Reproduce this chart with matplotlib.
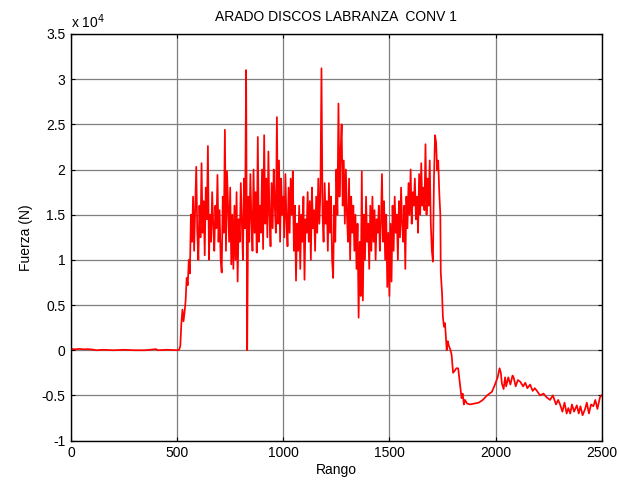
import numpy as np
import matplotlib
matplotlib.use("Agg")
import matplotlib.pyplot as plt
from matplotlib.ticker import FuncFormatter, MultipleLocator

plt.rcParams['font.family'] = ['Liberation Sans', 'DejaVu Sans']

# ---- data (force in units of 1e4 N, sample index) ----
x_start = [0, 20, 40, 60, 80, 100, 120, 150, 200, 250, 300, 350, 400, 410, 450, 500,
           505, 510, 515, 520, 525, 530, 535, 540, 545, 550, 555, 560, 565]
y_start = [0.015, 0.01, 0.015, 0.01, 0.012, 0.008, 0.0, 0.005, 0.0, 0.005, 0.0, 0.0, 0.012, 0.0, 0.005, 0.0,
           0.0, 0.01, 0.05, 0.3, 0.45, 0.32, 0.42, 0.55, 0.8, 0.72, 1.0, 0.85, 1.5]

x_noisy_first = 570
x_noisy_step = 5
y_noisy = [
    1.2, 1.7, 1.1, 1.55, 2.03, 1.3, 1.0, 1.6, 1.25, 2.07,
    1.3, 1.65, 1.05, 1.8, 1.45, 2.26, 1.0, 1.5, 1.2, 1.75,
    1.4, 1.1, 1.6, 1.35, 1.94, 1.2, 1.55, 1.0, 0.86, 1.7,
    1.3, 2.44, 1.1, 1.98, 1.6, 1.2, 1.8, 0.95, 1.5, 0.9,
    1.6, 1.0, 1.75, 0.76, 1.45, 1.2, 1.85, 1.4, 1.0, 1.9,
    1.35, 3.10, 0.0, 1.7, 1.2, 1.95, 1.45, 1.1, 2.0, 1.3,
    1.75, 1.08, 2.36, 1.2, 1.6, 1.3, 2.0, 1.12, 2.38, 1.4,
    1.9, 1.25, 2.2, 1.5, 1.15, 1.85, 1.35, 2.0, 1.6, 1.3,
    2.58, 1.4, 2.1, 1.2, 1.9, 1.5, 1.7, 1.25, 1.95, 1.45,
    1.15, 1.8, 1.3, 1.9, 1.5, 1.98, 1.1, 1.6, 0.77, 1.4,
    1.1, 1.6, 0.9, 1.5, 1.2, 1.7, 0.78, 1.45, 1.3, 1.75,
    1.2, 1.65, 1.0, 1.8, 1.35, 1.55, 1.1, 1.7, 1.3, 1.9,
    1.4, 1.75, 3.12, 1.5, 1.2, 1.85, 1.4, 1.65, 1.1, 1.85,
    1.3, 1.7, 1.0, 0.8, 1.6, 1.2, 2.0, 1.5, 2.73, 1.7,
    2.2, 2.5, 1.6, 2.1, 1.4, 2.0, 1.5, 1.2, 1.9, 1.0,
    1.7, 1.3, 1.6, 1.1, 1.5, 0.9, 1.4, 0.36, 1.2, 0.6,
    1.98, 0.55, 1.5, 1.0, 1.7, 1.2, 1.4, 0.9, 1.6, 1.1,
    1.7, 1.2, 1.55, 1.0, 1.45, 1.3, 1.6, 1.1, 1.4, 1.95,
    1.2, 1.65, 1.0, 1.5, 0.7, 1.3, 0.6, 1.4, 0.76, 1.6,
    1.1, 1.7, 1.3, 1.5, 1.0, 1.65, 1.25, 1.8, 1.4, 1.2,
    1.6, 0.9, 1.7, 1.35, 1.85, 1.5, 2.0, 1.4, 1.75, 1.6,
    1.9, 1.45, 1.7, 1.3, 1.95, 1.5, 2.07, 1.6, 1.8, 1.55,
    2.28, 1.5, 1.9, 1.6, 2.1, 1.4, 1.1, 0.98, 1.9, 2.38,
    2.3, 1.99, 2.1, 1.74,
]

x_end = [1740, 1742, 1748, 1752, 1757, 1762, 1766, 1770, 1775, 1780, 1788, 1793, 1800, 1810,
         1815, 1824, 1832, 1840, 1845, 1851, 1856, 1866, 1880, 1900, 1921, 1940, 1960, 1983,
         1999, 2010, 2019, 2025, 2030, 2038, 2045, 2050, 2060, 2070, 2080, 2085, 2095, 2105,
         2117, 2130, 2140, 2150, 2163, 2175, 2185, 2195, 2210, 2226, 2240, 2257, 2270, 2285,
         2295, 2304, 2315, 2325, 2335, 2343, 2352, 2360, 2370, 2383, 2392, 2400, 2410, 2422,
         2430, 2440, 2450, 2461, 2470, 2480, 2492, 2500]
y_end = [1.5, 0.86, 0.63, 0.37, 0.26, 0.3, 0.15, 0.0, 0.1, 0.05, 0.0, -0.05, -0.25, -0.22,
         -0.2, -0.2, -0.37, -0.53, -0.48, -0.6, -0.55, -0.59, -0.6, -0.59, -0.58, -0.55, -0.5, -0.46,
         -0.37, -0.3, -0.2, -0.25, -0.37, -0.43, -0.3, -0.4, -0.3, -0.38, -0.28, -0.3, -0.4, -0.33,
         -0.35, -0.4, -0.36, -0.42, -0.38, -0.45, -0.42, -0.45, -0.5, -0.48, -0.52, -0.55, -0.5, -0.6,
         -0.55, -0.6, -0.68, -0.58, -0.7, -0.64, -0.7, -0.6, -0.68, -0.61, -0.7, -0.62, -0.72, -0.65,
         -0.58, -0.7, -0.6, -0.62, -0.55, -0.65, -0.52, -0.5]

x_noisy = [x_noisy_first + i * x_noisy_step for i in range(len(y_noisy))]
rango = np.array(x_start + x_noisy + x_end, dtype=float)
fuerza = np.array(y_start + y_noisy + y_end) * 1e4

# ---- figure ----
fig = plt.figure(figsize=(6.19, 4.84), dpi=100)
ax = fig.add_axes([0.1147, 0.0897, 0.8573, 0.8401])
ax.plot(rango, fuerza, color='#ff0000', lw=1.25)

ax.set_xlim(0, 2500)
ax.set_ylim(-1e4, 3.5e4)
ax.xaxis.set_major_locator(MultipleLocator(500))
ax.yaxis.set_major_locator(MultipleLocator(5000))
ax.yaxis.set_major_formatter(FuncFormatter(lambda v, p: '%g' % (v / 1e4)))
ax.grid(True, color='#7f7f7f', lw=0.9, ls='-')
ax.set_axisbelow(True)
ax.tick_params(direction='in', top=True, right=True, length=3, labelsize=10, pad=4)
for s in ax.spines.values():
    s.set_linewidth(1.0)

ax.set_title('ARADO DISCOS LABRANZA  CONV 1', fontsize=10, pad=9)
ax.set_xlabel('Rango', fontsize=10, labelpad=2)
ax.set_ylabel('Fuerza (N)', fontsize=10, labelpad=6)
ax.text(0.0, 1.008, r'x 10$^{4}$', transform=ax.transAxes, fontsize=10, ha='left', va='bottom')

fig.savefig('out.png', dpi=100)
